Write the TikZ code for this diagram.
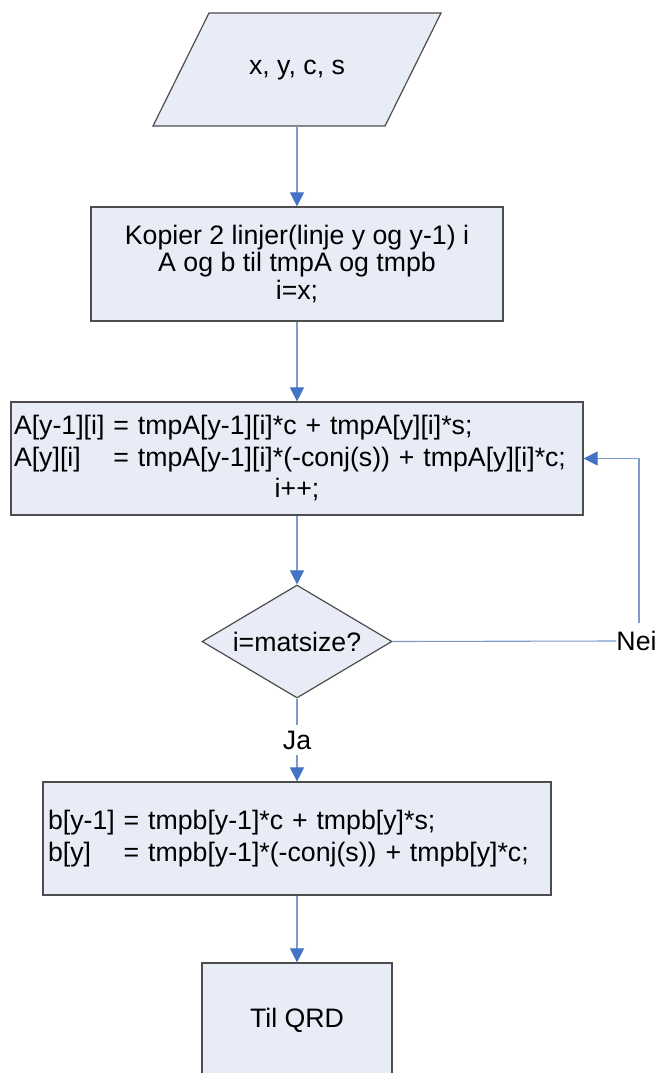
\documentclass[tikz,border=0pt]{standalone}
\usepackage{fontspec}
\setmainfont{Liberation Sans}
\usetikzlibrary{arrows.meta,shapes.geometric}
\definecolor{boxfill}{RGB}{231,236,247}
\definecolor{boxline}{RGB}{77,77,77}
\definecolor{connline}{RGB}{125,155,205}
\definecolor{tipblue}{RGB}{68,114,196}
\tikzset{
  txt/.style={font=\fontsize{26.7}{31.5}\selectfont, text=black},
  proc/.style={txt, draw=boxline, line width=1.2pt, fill=boxfill, rectangle, inner sep=0pt},
  decide/.style={txt, draw=boxline, line width=1.2pt, fill=boxfill, diamond, aspect=1.68,
                 inner sep=0pt, minimum width=190pt, minimum height=113pt},
  conn/.style={draw=connline, line width=1.1pt, -{Triangle[length=14pt,width=14pt,color=tipblue]}},
  plainline/.style={draw=connline, line width=1.1pt},
  lbl/.style={txt, fill=white, inner xsep=2pt, inner ysep=6pt},
}
\begin{document}
\begin{tikzpicture}[x=1pt,y=-1pt]
\clip (0,0) rectangle (657,1073);
\fill[white] (0,0) rectangle (657,1073);

% input parallelogram
\draw[draw=boxline, line width=1.2pt, fill=boxfill] (209,13) -- (441,13) -- (385,126) -- (153,126) -- cycle;
\node[txt] (inp) at (297,70) {x, y, c, s};
\coordinate (inpbot) at (297,126);

% copy rows
\node[proc, minimum width=412pt, minimum height=114pt, align=center,
      font=\fontsize{26.7}{27.5}\selectfont] (copy) at (297,264)
  {Kopier 2 linjer(linje y og y-1) i\\A og b til tmpA og tmpb\\i=x;};

% rotate rows of A
\node[proc, minimum width=572pt, minimum height=113pt, text width=566pt, align=left] (rotA) at (297,458.5)
  {\mbox{A[y-1][i] = tmpA[y-1][i]*c + tmpA[y][i]*s;}\\
   \mbox{\rlap{A[y][i]}\phantom{A[y-1][i]} = tmpA[y-1][i]*(-conj(s)) + tmpA[y][i]*c;}\\
   \makebox[566pt]{i++;}};

% loop test
\node[decide] (chk) at (297,641.5) {i=matsize?};
\node[txt, inner sep=0pt] (nei) at (636.5,641) {Nei};
\coordinate (loopstart) at (639,623);

% rotate rows of b
\node[proc, minimum width=508pt, minimum height=113pt, text width=498pt, align=left] (rotb) at (297,838.5)
  {\mbox{b[y-1] = tmpb[y-1]*c + tmpb[y]*s;}\\
   \mbox{\rlap{b[y]}\phantom{b[y-1]} = tmpb[y-1]*(-conj(s)) + tmpb[y]*c;}};

% exit
\node[proc, minimum width=190pt, minimum height=114pt] (qrd) at (297,1020) {Til QRD};

% connectors
\draw[conn] (inpbot) -- (copy.north);
\draw[conn] (copy.south) -- (rotA.north);
\draw[conn] (rotA.south) -- (chk.north);
\draw[conn] (chk.south) -- node[lbl] (ja) {Ja} (rotb.north);
\draw[conn] (rotb.south) -- (qrd.north);
\draw[plainline] (chk.east) -- (nei.west);
\draw[conn] (loopstart) |- (rotA.east);
\end{tikzpicture}
\end{document}
